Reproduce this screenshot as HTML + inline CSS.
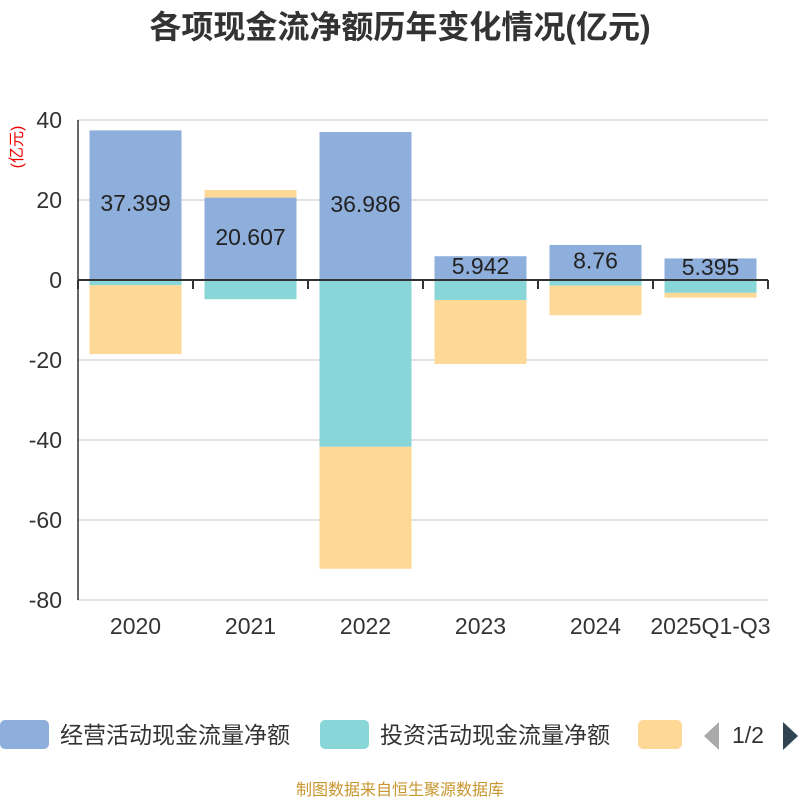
<!DOCTYPE html>
<html><head><meta charset="utf-8"><style>
body{margin:0;background:#fff;font-family:"Liberation Sans","Noto Sans CJK SC",sans-serif}
svg text{font-family:"Liberation Sans","Noto Sans CJK SC",sans-serif}
</style></head><body>
<svg id="c" width="800" height="800">
<text x="400" y="38" text-anchor="middle" font-size="32" font-weight="bold" fill="#333">各项现金流净额历年变化情况(亿元)</text>
<text transform="translate(22,147) rotate(-90)" text-anchor="middle" font-size="16" fill="#e00">(亿元)</text>
<g id="grid"></g><g id="bars"></g><g id="axes"></g>
<g>
<rect x="0" y="720" width="49" height="29" rx="5" fill="#8eaedb"/>
<text x="60" y="743" font-size="23" fill="#333">经营活动现金流量净额</text>
<rect x="320" y="720" width="49" height="29" rx="5" fill="#88d6d8"/>
<text x="380" y="743" font-size="23" fill="#333">投资活动现金流量净额</text>
<rect x="638" y="720" width="44" height="29" rx="5" fill="#fed897"/>
<polygon points="719,722 719,750 704,736" fill="#aaa"/>
<text x="732" y="743" font-size="23" fill="#333">1/2</text>
<polygon points="783,722 783,750 798,736" fill="#2f4554"/>
</g>
<text x="400" y="795" text-anchor="middle" font-size="16" fill="#c8962e">制图数据来自恒生聚源数据库</text>
</svg>
<script>
const categories=["2020","2021","2022","2023","2024","2025Q1-Q3"];
const operating=[37.399,20.607,36.986,5.942,8.76,5.395];
const investing=[-1.3,-4.8,-41.7,-5.0,-1.4,-3.2];
const financing=[-17.2,1.9,-30.5,-16.0,-7.4,-1.2];
const yTicks=[40,20,0,-20,-40,-60,-80];
const NS="http://www.w3.org/2000/svg";
const X0=78,W=115,BW=92;
function y(v){return 280-v*4;}
function xc(i){return X0+W*i+W/2;}
function mk(t,a,p){const e=document.createElementNS(NS,t);for(const k in a)e.setAttribute(k,a[k]);p.appendChild(e);return e;}
const grid=document.getElementById('grid'),bars=document.getElementById('bars'),axes=document.getElementById('axes');
yTicks.forEach(t=>{
 const l=mk('line',{x1:X0,x2:768,y1:y(t),y2:y(t),stroke:'#c4c4c4','stroke-width':1},grid);
 
 
 const tx=mk('text',{x:62,y:y(t)+8,'text-anchor':'end','font-size':23,fill:'#333'},axes);
 tx.textContent=t;
 
 
});
const yl=mk('line',{x1:X0,x2:X0,y1:y(40),y2:y(-80),stroke:'#333','stroke-width':1.5},axes);


categories.forEach((c,i)=>{
 const series=[[operating[i],'#8eaedb','bar-operating'],[investing[i],'#88d6d8','bar-investing'],[financing[i],'#fed897','bar-financing']];
 let pos=0,neg=0;
 series.forEach(([v,col,nm])=>{
  let a,b;
  if(v>=0){a=pos;b=pos+v;pos=b;}else{a=neg;b=neg+v;neg=b;}
  const r=mk('rect',{x:xc(i)-BW/2,y:Math.min(y(a),y(b)),width:BW,height:Math.abs(y(a)-y(b)),fill:col},bars);
  
  
 });
 const lb=mk('text',{x:xc(i),y:y(operating[i]/2)+6,'text-anchor':'middle','font-size':23,fill:'#222'},bars);
 lb.textContent=operating[i];
 
 
 const tl=mk('text',{x:xc(i),y:634,'text-anchor':'middle','font-size':23,fill:'#333'},axes);
 tl.textContent=c;
 
 
});
const xl=mk('line',{x1:X0,x2:768,y1:y(0),y2:y(0),stroke:'#333','stroke-width':2},axes);


for(let k=0;k<=categories.length;k++){
 const t=mk('line',{x1:X0+W*k,x2:X0+W*k,y1:y(0),y2:y(0)+9,stroke:'#333','stroke-width':2},axes);
 
 
}
</script>
</body></html>
